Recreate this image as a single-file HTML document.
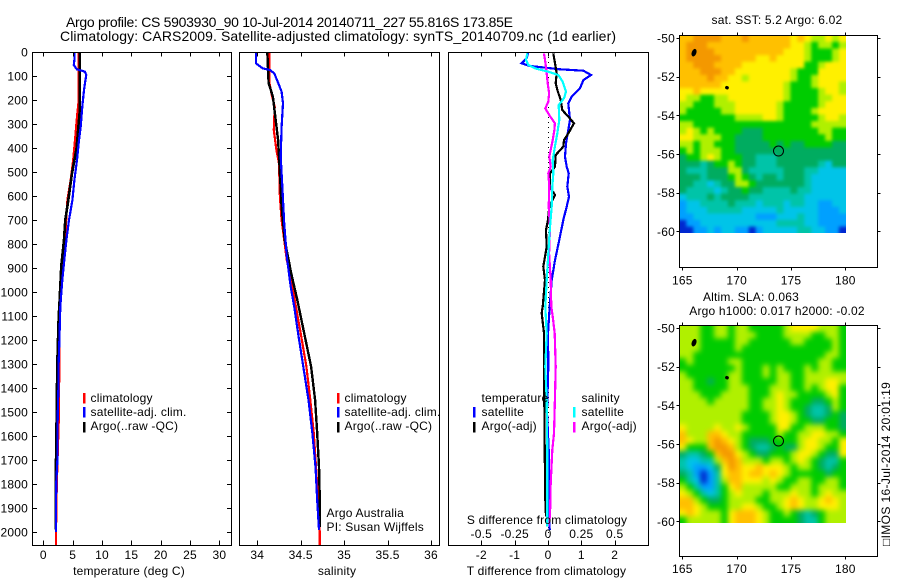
<!DOCTYPE html>
<html><head><meta charset="utf-8"><title>Argo profile</title>
<style>
html,body{margin:0;padding:0;background:#fff}
svg{display:block}
text{font-family:"Liberation Sans",sans-serif;font-size:12px;fill:#000;letter-spacing:.2px}
.t{font-size:14px;letter-spacing:0}
</style></head>
<body>
<svg id="fig" width="900" height="580" viewBox="0 0 900 580" xmlns="http://www.w3.org/2000/svg">
<defs>
<clipPath id="c1"><rect x="32.5" y="52.5" width="199" height="493"/></clipPath>
<clipPath id="c2"><rect x="239.5" y="52.5" width="200" height="493"/></clipPath>
<clipPath id="c3"><rect x="448.5" y="52.5" width="200" height="493"/></clipPath>
<clipPath id="clip-sst-map"><rect x="680" y="36" width="166" height="197"/></clipPath>
<clipPath id="clip-sla-map"><rect x="680" y="326" width="166" height="197"/></clipPath>
<filter id="blur-sst-map" filterUnits="userSpaceOnUse" x="640" y="0" width="240" height="290" color-interpolation-filters="sRGB"><feGaussianBlur stdDeviation="1.5"/></filter>
<filter id="blur-sla-map" filterUnits="userSpaceOnUse" x="640" y="290" width="240" height="290" color-interpolation-filters="sRGB"><feGaussianBlur stdDeviation="2.6"/></filter>
</defs>
<text class="t" x="66" y="27" textLength="447" lengthAdjust="spacing">Argo profile: CS 5903930_90 10-Jul-2014 20140711_227 55.816S 173.85E</text>
<text class="t" x="60" y="41" textLength="556" lengthAdjust="spacing">Climatology: CARS2009. Satellite-adjusted climatology: synTS_20140709.nc (1d earlier)</text>
<g id="layer-marks"></g>
<text x="129" y="575" text-anchor="middle">temperature (deg C)</text>
<text x="337" y="575" text-anchor="middle">salinity</text>
<text x="546.5" y="575" text-anchor="middle">T difference from climatology</text>
<text x="547" y="524" text-anchor="middle">S difference from climatology</text>

<g>
<rect x="83" y="393" width="2.5" height="10.5" fill="#f00"/>
<text x="90.5" y="402">climatology</text>
<rect x="83" y="407" width="2.5" height="10.5" fill="#00f"/>
<text x="90.5" y="416">satellite-adj. clim.</text>
<rect x="83" y="422" width="2.5" height="10.5" fill="#000"/>
<text x="90.5" y="430">Argo(..raw -QC)</text>
</g>
<g>
<rect x="337" y="393" width="2.5" height="10.5" fill="#f00"/>
<text x="344.5" y="402">climatology</text>
<rect x="337" y="407" width="2.5" height="10.5" fill="#00f"/>
<text x="344.5" y="416">satellite-adj. clim.</text>
<rect x="337" y="422" width="2.5" height="10.5" fill="#000"/>
<text x="344.5" y="430">Argo(..raw -QC)</text>
</g>
<g>
<text x="481.5" y="402">temperature</text>
<rect x="473" y="407" width="2.5" height="10.5" fill="#00f"/>
<text x="481.5" y="416">satellite</text>
<rect x="473" y="422" width="2.5" height="10.5" fill="#000"/>
<text x="481.5" y="430">Argo(-adj)</text>
<text x="581.5" y="402">salinity</text>
<rect x="573" y="407" width="2.5" height="10.5" fill="#0ff"/>
<text x="581.5" y="416">satellite</text>
<rect x="573" y="422" width="2.5" height="10.5" fill="#f0f"/>
<text x="581.5" y="430">Argo(-adj)</text>
</g>
<text x="326.5" y="517">Argo Australia</text>
<text x="326.5" y="531">PI: Susan Wijffels</text>
<text x="777" y="24" text-anchor="middle">sat. SST: 5.2 Argo: 6.02</text>
<text x="751" y="301" text-anchor="middle">Altim. SLA: 0.063</text>
<text x="777" y="315" text-anchor="middle">Argo h1000: 0.017 h2000: -0.02</text>
<text transform="translate(890,546) rotate(-90)" textLength="164" lengthAdjust="spacing" style="font-family:'Liberation Sans','DejaVu Sans',sans-serif">□IMOS 16-Jul-2014 20:01:19</text>
</svg>
<script>
// ---------- profile data ----------
const tempTicks = [0,5,10,15,20,25,30];
const salTicks = [34,34.5,35,35.5,36];
const salTickLabels = ['34','34.5','35','35.5','36'];
const tDiffTicks = [-2,-1,0,1,2];
const sDiffTicks = [-0.5,-0.25,0,0.25,0.5];
const sDiffTickLabels = ['-0.5','-0.25','0','0.25','0.5'];
const depthTicks = [0,100,200,300,400,500,600,700,800,900,1000,1100,1200,1300,1400,1500,1600,1700,1800,1900,2000];

const climTempDepth = [0,200,270,367,450,533,617,783,1061,1200,1500,1800,2000,2055];
const climTempValue = [6.03,6.03,5.74,5.4,5.1,4.66,4.1,3.7,2.85,2.75,2.68,2.3,2.16,2.16];
const satTempDepth = [0,33,54,72,82,96,158,228,311,367,450,533,617,700,783,867,950,1061,1200,1300,1400,1500,1600,1700,1800,2000];
const satTempValue = [5.29,5.29,5.2,5.7,7.1,7.3,6.93,6.65,6.37,6.08,5.74,5.29,4.95,4.38,3.93,3.58,3.24,2.9,2.74,2.6,2.57,2.47,2.4,2.4,2.2,2.16];
const argoTempDepth = [0,100,250,400,505,617,700,783,890,1061,1100,1300,1500,1800,1990];
const argoTempValue = [6.2,6.2,6.2,5.68,4.89,4.26,3.75,3.53,3.07,2.73,2.62,2.39,2.28,2.11,2.11];

const climSalDepth = [0,130,186,228,325,408,464,603,700,783,867,950,1061,1172,1311,1450,1589,1728,1867,2006,2055];
const climSalValue = [34.14,34.14,34.17,34.2,34.19,34.22,34.25,34.26,34.28,34.31,34.34,34.39,34.445,34.5,34.565,34.61,34.65,34.676,34.7,34.72,34.72];
const satSalDepth = [0,47,68,75,89,124,165,214,311,436,575,714,853,978,1061,1172,1311,1450,1589,1728,1867,1991];
const satSalValue = [33.985,33.985,34.06,34.146,34.196,34.235,34.28,34.296,34.28,34.27,34.29,34.31,34.34,34.385,34.425,34.47,34.53,34.59,34.635,34.67,34.69,34.71];
const argoSalDepth = [0,130,186,270,367,505,644,783,922,1033,1172,1311,1450,1589,1728,1867,1980];
const argoSalValue = [34.115,34.13,34.18,34.207,34.24,34.26,34.28,34.315,34.39,34.46,34.54,34.62,34.665,34.69,34.71,34.72,34.72];

const satDiffTDepth = [0,26,47,58,72,78,96,117,151,186,214,283,325,381,436,478,506,561,603,644,700,783,867,950,1061,1172,1311,1500,1658,1866,1991];
const satDiffTValue = [-0.59,-0.64,-0.79,-0.56,0.36,1.06,1.29,1.06,0.96,0.71,0.61,0.66,0.61,0.54,0.51,0.56,0.62,0.58,0.63,0.56,0.46,0.34,0.21,0.11,0.05,0,0.01,-0.03,0.02,0.02,0.05];
const argoDiffTDepth = [6,47,89,130,158,200,242,269,297,339,367,394,429,478,506,561,596,644,700,742,811,894,950,1061,1088,1172,1311,1450,1658,1866,1936];
const argoDiffTValue = [0.16,0.21,0.26,0.23,0.28,0.38,0.43,0.61,0.78,0.61,0.48,0.46,0.23,0.21,0.06,0.06,0.21,0.04,0,-0.06,-0.04,-0.14,-0.09,-0.16,-0.19,-0.12,-0.12,-0.11,-0.1,-0.08,-0.06];
const satDiffSDepth = [6,33,54,68,82,96,124,165,193,221,283,339,394,450,506,561,644,728,839,950,1061,1172,1311,1450,1658,1866,1977];
const satDiffSValue = [-0.155,-0.165,-0.148,-0.098,0.002,0.078,0.11,0.135,0.12,0.08,0.085,0.07,0.052,0.035,0.04,0.032,0.028,0.015,0.002,-0.01,-0.02,-0.01,-0.02,-0.01,-0.005,-0.005,-0.005];
const argoDiffSDepth = [6,61,89,130,172,207,235,263,297,325,367,436,478,506,561,644,728,839,950,1061,1102,1172,1311,1450,1589,1658,1797,1936,1977];
const argoDiffSValue = [-0.03,-0.015,-0.01,-0.002,0.008,0.002,-0.02,0.01,0.052,0.048,0.035,0.01,0.02,0.002,0.01,0.005,0.015,0.008,0.02,0.025,0.035,0.05,0.058,0.052,0.045,0.032,0.02,0.015,0.002];

// ---------- map data (colour level per grid cell, north to south) ----------
const lonTicks = [165,170,175,180];
const latTicks = [-50,-52,-54,-56,-58,-60];
const profileLon = [173.85];
const profileLat = [-55.816];
const islandLon = [166.08,169.11];
const islandLat = [-50.76,-52.57];
const sstGrid = [
[8,8,9,9,9,9,8,8,8,9,8,8,8,8,8,8,7,8,7,6,6,7,6,7],
[8,9,9,9,8,8,8,8,8,8,8,8,8,8,8,8,7,7,6,5,6,6,5,6],
[8,9,9,9,9,8,8,8,8,8,8,8,8,8,8,7,7,7,6,5,5,5,6,7],
[8,9,9,9,9,9,8,8,8,8,8,7,7,8,7,7,7,7,6,5,5,5,6,7],
[8,8,9,9,9,8,8,8,8,7,7,7,7,7,7,7,7,7,5,5,6,7,7,7],
[8,8,8,9,9,9,8,8,7,7,7,7,7,7,7,7,6,5,5,5,7,7,7,7],
[8,8,8,8,9,8,8,7,7,6,7,7,7,7,7,7,6,5,5,6,7,7,7,7],
[8,8,8,8,8,8,7,7,7,7,7,7,7,7,7,6,5,5,5,6,7,7,7,6],
[7,7,8,7,7,7,7,7,7,7,7,7,7,7,7,6,5,5,5,5,6,7,7,6],
[7,6,6,5,5,6,6,7,7,7,7,7,7,7,7,6,5,5,5,5,6,6,7,7],
[6,6,5,5,5,6,6,6,7,7,7,7,7,7,6,5,5,5,5,5,6,7,7,7],
[6,5,5,5,5,5,6,6,7,7,7,7,7,7,6,5,5,5,5,6,7,7,7,7],
[5,5,5,5,5,5,5,5,6,6,6,6,7,7,6,5,5,5,5,5,6,7,7,6],
[6,6,5,5,5,5,5,5,5,5,5,5,5,5,5,5,5,5,5,6,6,6,6,6],
[6,7,6,5,6,5,5,5,5,4,4,4,5,5,5,5,5,5,5,5,6,6,5,5],
[7,7,6,6,6,6,5,5,4,4,4,4,5,5,5,5,5,5,5,5,5,6,5,5],
[6,6,5,6,6,5,5,5,4,4,4,4,4,5,4,5,4,4,5,5,5,5,4,4],
[5,6,5,6,6,6,5,5,4,4,4,4,4,4,4,4,4,4,4,4,4,4,4,4],
[4,5,5,6,7,6,5,5,5,4,4,3,3,3,4,4,4,4,4,4,4,4,4,4],
[4,4,4,3,4,5,5,6,5,4,4,3,3,3,4,4,4,4,4,4,3,2,4,4],
[4,3,3,3,4,4,4,6,6,4,3,3,3,3,3,4,4,4,3,3,2,2,2,2],
[4,4,4,3,4,4,4,5,6,5,4,3,4,4,3,4,4,4,3,2,2,2,2,2],
[4,4,3,3,2,3,4,4,6,6,5,4,4,4,4,4,4,4,3,2,2,2,2,2],
[4,3,3,3,3,2,3,4,4,5,4,4,3,3,3,3,4,3,3,2,2,2,2,2],
[2,3,3,3,4,3,4,4,4,4,3,3,3,3,3,3,3,3,2,2,2,2,2,2],
[1,2,2,3,3,3,3,4,3,3,3,2,3,3,3,2,3,3,2,2,1,1,2,2],
[1,2,2,2,3,3,3,3,3,2,2,2,2,2,3,2,2,2,2,2,1,1,1,2],
[1,1,2,2,2,2,2,2,2,2,2,1,1,1,2,2,2,3,2,2,1,1,1,1],
[0,1,1,2,2,2,2,2,2,2,2,2,2,2,3,3,3,3,2,2,1,1,1,1],
[0,0,1,1,2,1,2,2,1,1,0,1,2,2,2,2,2,3,3,2,2,1,1,0]
];
const slaGrid = [
[6,6,6,5,5,6,6,5,6,6,5,5,5,5,5,6,7,7,7,7,6,6,6,5],
[6,6,6,5,5,6,6,5,6,6,6,5,5,5,5,6,6,6,6,5,5,6,6,5],
[6,6,6,5,5,5,5,5,6,6,5,5,5,5,5,5,6,6,5,5,5,5,6,5],
[6,6,6,5,5,5,5,5,6,5,5,5,5,5,5,5,5,5,5,5,5,5,6,5],
[6,6,5,5,5,5,5,5,5,5,5,5,5,5,5,5,5,5,5,5,5,6,6,5],
[5,6,5,5,5,5,5,6,6,5,5,5,5,5,5,5,5,5,5,5,6,6,5,5],
[5,5,5,5,5,5,5,5,6,5,5,5,6,5,6,5,5,5,6,5,6,6,5,5],
[6,5,5,5,5,5,5,6,6,5,5,5,6,5,6,6,5,5,6,6,6,6,6,6],
[6,6,5,5,4,5,5,6,6,5,5,5,5,5,6,6,5,5,6,6,6,7,7,6],
[6,6,5,5,5,5,5,6,6,6,5,5,5,6,6,6,5,5,6,5,6,7,7,5],
[6,6,6,5,5,5,6,6,6,6,5,5,5,6,7,6,6,5,5,5,5,6,7,5],
[6,6,6,6,5,6,6,6,6,6,5,5,6,6,7,6,5,5,5,4,4,5,6,5],
[6,6,6,6,6,6,6,6,6,6,5,5,6,6,7,6,5,5,4,3,3,4,6,5],
[6,6,6,6,6,6,6,6,6,5,5,5,5,6,7,7,6,5,4,3,3,4,5,4],
[6,6,6,6,6,6,6,6,6,5,5,5,5,6,7,7,6,5,5,4,4,5,5,4],
[7,6,6,6,6,7,6,6,7,6,5,5,5,5,7,7,5,5,6,6,6,5,5,4],
[8,6,6,6,8,8,7,6,6,5,5,5,5,5,6,5,5,6,6,7,7,6,6,5],
[8,7,6,6,8,9,8,7,6,5,4,4,4,5,5,5,5,6,7,7,6,6,5,7],
[7,5,5,5,8,9,9,8,6,5,4,3,3,4,5,4,4,6,7,7,6,5,5,7],
[4,3,3,4,5,8,9,9,7,6,5,4,4,5,5,5,6,7,7,6,5,4,4,7],
[3,2,2,3,3,6,8,9,8,6,6,6,5,6,6,5,6,7,6,5,4,3,3,5],
[3,2,1,1,2,4,7,9,8,7,7,8,7,7,7,6,5,6,6,5,4,3,4,5],
[4,3,1,0,1,3,7,8,8,7,8,8,7,8,7,6,5,5,5,5,5,4,5,5],
[5,3,2,0,1,3,6,8,8,7,7,7,6,7,6,5,5,6,6,5,5,6,6,5],
[6,5,3,1,1,3,5,7,8,6,6,6,6,6,5,5,6,6,6,5,6,6,6,5],
[7,6,5,3,2,3,5,6,7,6,6,6,5,6,6,6,7,6,6,5,6,7,6,6],
[8,8,6,5,4,4,5,6,6,6,6,5,5,6,6,7,8,7,6,6,7,8,7,6],
[8,8,7,6,5,5,5,6,6,7,7,6,5,5,6,7,8,7,6,6,7,7,7,6],
[7,8,7,6,6,6,5,7,8,8,8,7,6,5,5,6,5,4,3,4,5,6,6,6],
[5,6,6,6,6,6,5,7,8,8,8,7,6,5,5,5,5,4,3,3,5,6,6,6]
];

// ---------- drawing ----------
const NS = 'http://www.w3.org/2000/svg';
const root = document.getElementById('layer-marks');
function mk(tag, attrs, parent, txt) {
  const el = document.createElementNS(NS, tag);
  for (const k in attrs) el.setAttribute(k, attrs[k]);
  if (txt !== undefined) el.textContent = txt;
  (parent || root).appendChild(el);
  return el;
}
const levelColors = ['#0028d0','#00a0ff','#00c4e8','#00c4a8','#00ac60','#00cc00','#b0f000','#fff000','#ffc000','#f49800'];
const yDepth = d => 52 + d * 0.24;
const xTemp = v => 43.3 + v * 5.87;
const xSal = v => 257.3 + (v - 34) * 86.85;
const xDT = v => 548 + v * 33.35;
const xDS = v => 548 + v * 133.4;

function profile(name, depths, values, xf, color, clip, w) {
  const pts = depths.map((d, i) => xf(values[i]).toFixed(1) + ',' + yDepth(d).toFixed(1)).join(' ');
  const el = mk('polyline', {points: pts, fill: 'none', stroke: color, 'stroke-width': w || 2.2, 'clip-path': 'url(#' + clip + ')', 'shape-rendering': 'crispEdges'});
  
  
}
function frame(name, x, y, w, h) {
  const el = mk('rect', {x: x, y: y, width: w, height: h, fill: 'none', stroke: '#000', 'stroke-width': 1, 'shape-rendering': 'crispEdges'});
  
  
}
function tick(x1, y1, x2, y2) {
  const el = mk('line', {x1: x1, y1: y1, x2: x2, y2: y2, stroke: '#000', 'stroke-width': 1, 'shape-rendering': 'crispEdges'});
  
  
}
function label(x, y, anchor, s) {
  const el = mk('text', {x: x, y: y, 'text-anchor': anchor}, root, s);
  
  
}
function xAxis(ticks, labels, xf, top, bottom, labelY) {
  ticks.forEach((t, i) => {
    const x = Math.round(xf(t)) + 0.5;
    tick(x, top, x, top + 4);
    tick(x, bottom, x, bottom - 5);
    label(xf(t), labelY, 'middle', labels[i]);
  });
}

// profile series
profile('climatology-temperature-line', climTempDepth, climTempValue, xTemp, '#f00', 'c1');
profile('argo-temperature-line', argoTempDepth, argoTempValue, xTemp, '#000', 'c1', 2.6);
profile('satellite-temperature-line', satTempDepth, satTempValue, xTemp, '#00f', 'c1');

profile('climatology-salinity-line', climSalDepth, climSalValue, xSal, '#f00', 'c2');
profile('argo-salinity-line', argoSalDepth, argoSalValue, xSal, '#000', 'c2', 2.4);
profile('satellite-salinity-line', satSalDepth, satSalValue, xSal, '#00f', 'c2');

const zeroLine = mk('line', {x1: xDT(0) + 0.5, y1: yDepth(0), x2: xDT(0) + 0.5, y2: 545, stroke: '#000', 'stroke-width': 1, 'stroke-dasharray': '1 4', 'shape-rendering': 'crispEdges'});


profile('satellite-t-difference-line', satDiffTDepth, satDiffTValue, xDT, '#00f', 'c3');
profile('argo-t-difference-line', argoDiffTDepth, argoDiffTValue, xDT, '#000', 'c3');
profile('argo-s-difference-line', argoDiffSDepth, argoDiffSValue, xDS, '#f0f', 'c3');
profile('satellite-s-difference-line', satDiffSDepth, satDiffSValue, xDS, '#0ff', 'c3');

// frames and axes
frame('temperature-panel-frame', 32.5, 52.5, 199, 493);
frame('salinity-panel-frame', 239.5, 52.5, 200, 493);
frame('difference-panel-frame', 448.5, 52.5, 200, 493);
depthTicks.forEach(d => {
  const y = Math.round(yDepth(d)) + 0.5;
  tick(32.5, y, 37, y);
  tick(231.5, y, 227, y);
  label(28, yDepth(d) + 4.5, 'end', String(d));
});
xAxis(tempTicks, tempTicks.map(String), xTemp, 52.5, 545.5, 559);
xAxis(salTicks, salTickLabels, xSal, 52.5, 545.5, 559);
xAxis(tDiffTicks, tDiffTicks.map(String), xDT, 52.5, 545.5, 559);
sDiffTicks.forEach((t, i) => label(xDS(t), 538, 'middle', sDiffTickLabels[i]));

// maps
function map(name, grid, top, height, zeroY) {
  const xLon = v => 682.3 + (v - 165) * 10.87;
  const yLat = v => zeroY + (-50 - v) * 19.33;
  const lon0 = 164.73, lon1 = 180.05, lat0 = -49.86, lat1 = -60.1;
  const outer = mk('g', {'clip-path': 'url(#clip-' + name + ')'});
  
  
  const g = mk('g', {filter: 'url(#blur-' + name + ')'}, outer);
  
  
  const rows = grid.length;
  grid.forEach((row, r) => {
    const cols = row.length;
    row.forEach((level, c) => {
      // border cells reach past the clip so blurring keeps the map edge solid
      const xa = xLon(lon0 + (lon1 - lon0) * c / cols) - (c === 0 ? 14 : 0);
      const xb = xLon(lon0 + (lon1 - lon0) * (c + 1) / cols) + (c === cols - 1 ? 14 : 0);
      const ya = yLat(lat0 + (lat1 - lat0) * r / rows) - (r === 0 ? 14 : 0);
      const yb = yLat(lat0 + (lat1 - lat0) * (r + 1) / rows) + (r === rows - 1 ? 14 : 0);
      const cell = mk('rect', {x: xa.toFixed(2), y: ya.toFixed(2), width: (xb - xa + 0.4).toFixed(2), height: (yb - ya + 0.4).toFixed(2), fill: levelColors[level]}, g);
      
      
    });
  });
  frame(name + '-frame', 679.5, top, 198, height);
  lonTicks.forEach(v => {
    const x = Math.round(xLon(v)) + 0.5;
    tick(x, top, x, top - 3);
    tick(x, top + height, x, top + height + 3);
    label(xLon(v), top + height + (name === 'sst-map' ? 17 : 16.5), 'middle', String(v));
  });
  latTicks.forEach(v => {
    const y = Math.round(yLat(v)) + 0.5;
    tick(679.5, y, 676.5, y);
    tick(877.5, y, 880.5, y);
    label(675, yLat(v) + 4.5, 'end', String(v));
  });
  islandLon.forEach((v, i) => {
    const isl = mk('ellipse', {cx: xLon(v), cy: yLat(islandLat[i]), rx: i === 0 ? 2 : 1.6, ry: i === 0 ? 3.6 : 1.4, fill: '#000', stroke: '#000', 'stroke-width': 0.6, transform: 'rotate(20 ' + xLon(v) + ' ' + yLat(islandLat[i]) + ')'});
    
    
  });
  const m = mk('circle', {cx: xLon(profileLon[0]), cy: yLat(profileLat[0]) + 0.6, r: 5, fill: 'none', stroke: '#000', 'stroke-width': 1});
  
  
}
map('sst-map', sstGrid, 35.5, 232, 38);
map('sla-map', slaGrid, 325.5, 231, 328);
</script>
</body></html>
